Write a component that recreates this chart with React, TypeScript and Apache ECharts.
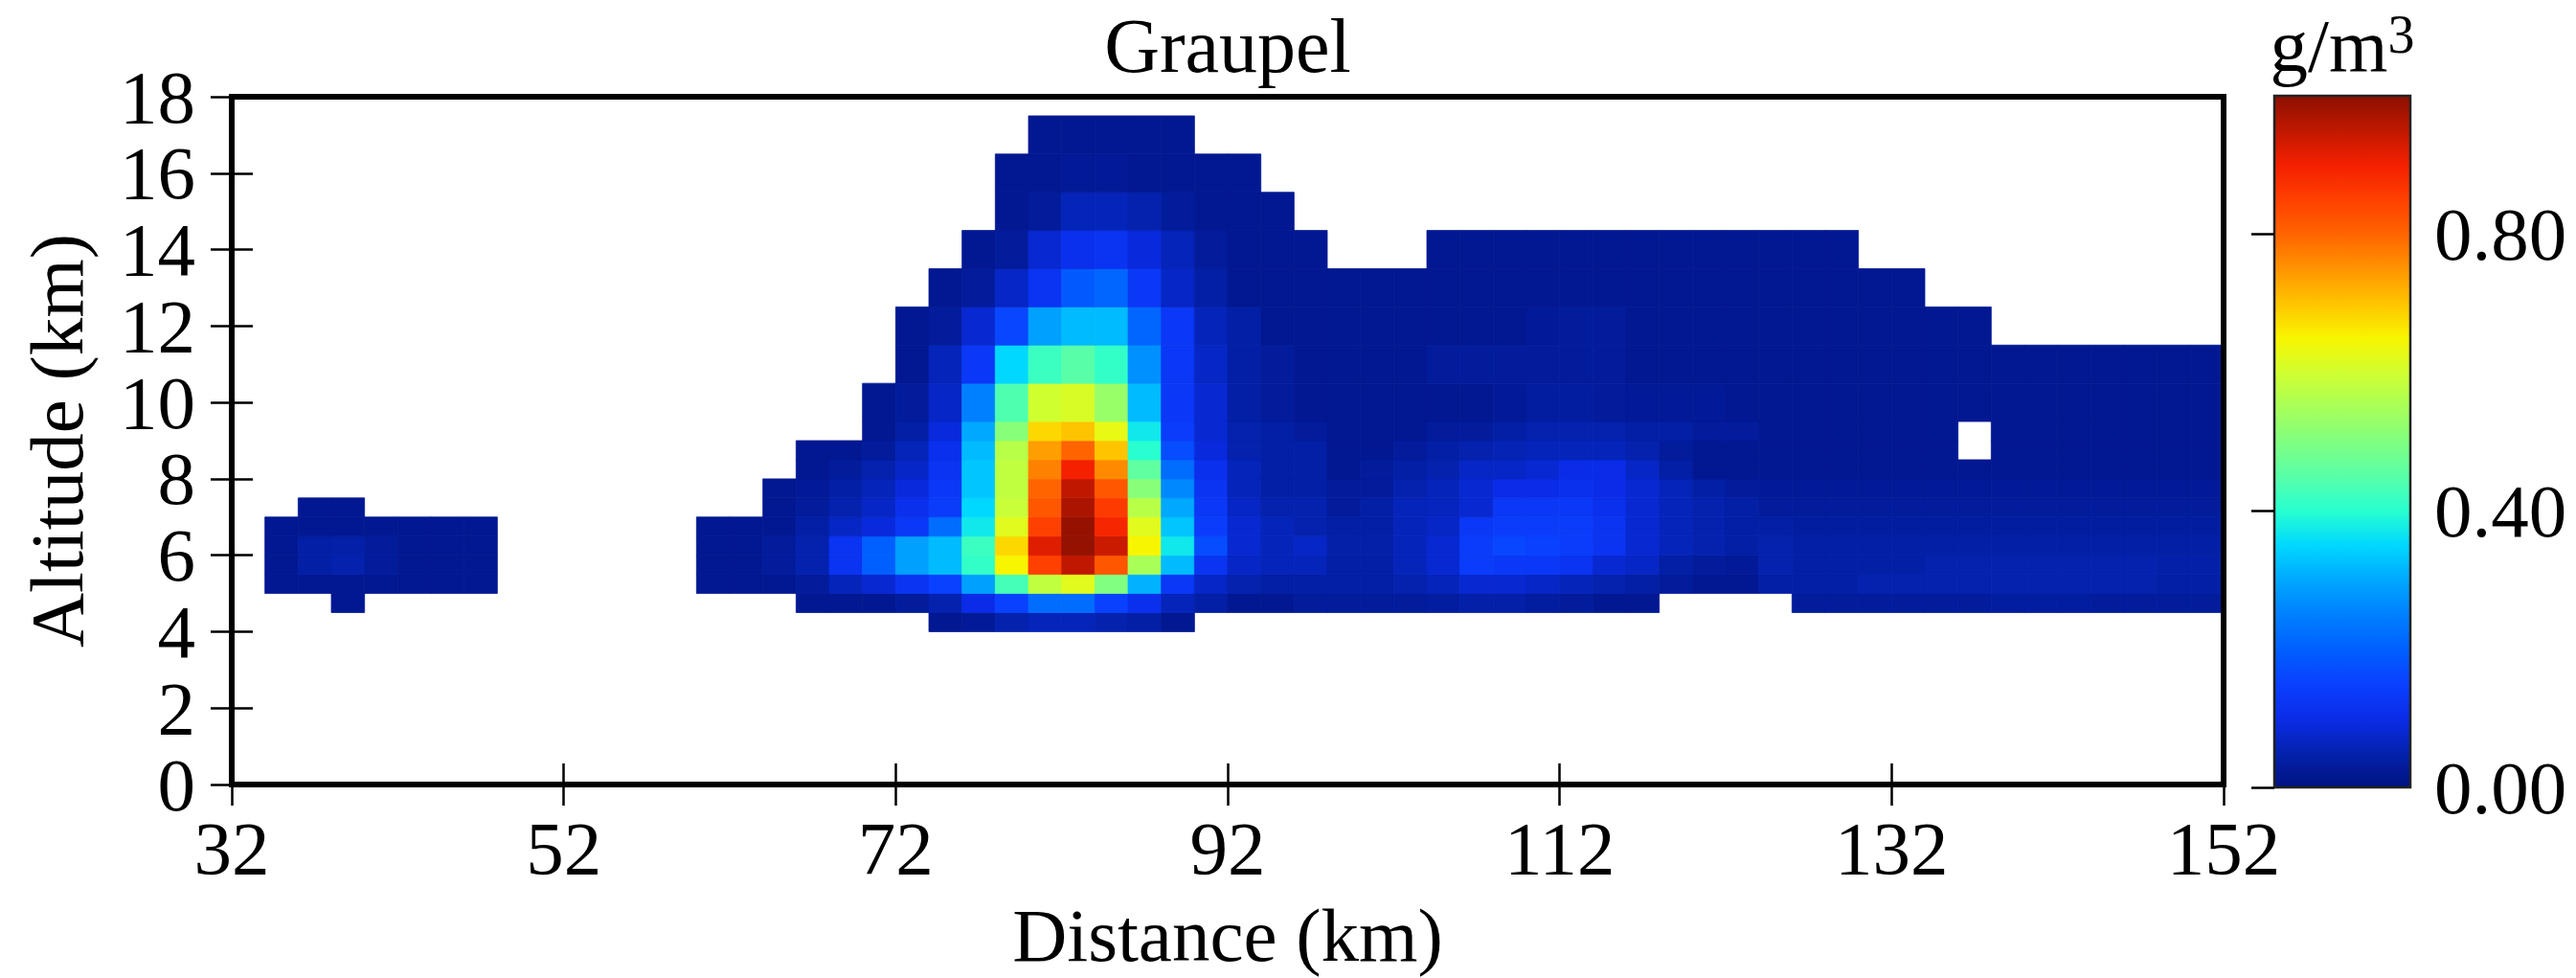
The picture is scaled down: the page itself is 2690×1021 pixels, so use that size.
import React, { useEffect, useRef } from 'react';
import * as echarts from 'echarts';

const _ = null;
const GAP = [_, _, _, _, _, _];
const NONE7 = [_, _, _, _, _, _, _];

// Column edges (km) of the 2-km distance cells
const X_EDGES = [34, 36, 38, 40, 42, 44, 46, 48, 50, 52, 54, 56, 58, 60, 62, 64, 66, 68, 70, 72, 74, 76, 78, 80, 82, 84, 86, 88, 90, 92, 94, 96, 98, 100, 102, 104, 106, 108, 110, 112, 114, 116, 118, 120, 122, 124, 126, 128, 130, 132, 134, 136, 138, 140, 142, 144, 146, 148, 150, 152];
// Altitude band edges (km)
const Y_EDGES = [4.0, 4.5, 5.0, 5.5, 6.0, 6.5, 7.0, 7.5, 8.0, 8.5, 9.0, 9.5, 10.5, 11.5, 12.5, 13.5, 14.5, 15.5, 16.5, 17.5];

const X_ORIGIN = 32;
const X_END = 152;
const X_STEP = 20;
const Y_MIN = 0;
const Y_MAX = 18;
const Y_STEP = 2;
const V_MIN = 0;
const V_MAX = 1;
const V_STEP = 0.4;

// Graupel content (g/m3), one array per altitude band, one value per distance cell (null = no data)
const alt_04_00 = [...NONE7, ...GAP,
  _, _, _, _, _, _, _, 0.02, 0.025, 0.05,
  0.06, 0.06, 0.05, 0.04, 0.02, _, _, _, _, _,
  _, _, _, _, _, _, _, _, _, _,
  _, _, _, _, _, _, _, _, _, _,
  _, _, _, _, _, _];
const alt_04_50 = [_, _, 0.02, _, _, _, _, ...GAP,
  _, _, _, 0.02, 0.02, 0.02, 0.03, 0.05, 0.10, 0.15,
  0.22, 0.22, 0.15, 0.11, 0.06, 0.04, 0.02, 0.02, 0.03, 0.03,
  0.03, 0.03, 0.035, 0.045, 0.045, 0.035, 0.03, 0.02, 0.02, _,
  _, _, _, 0.03, 0.03, 0.03, 0.03, 0.03, 0.03, 0.035,
  0.035, 0.035, 0.03, 0.03, 0.03, 0.03];
const alt_05_00 = [0.02, 0.02, 0.02, 0.02, 0.02, 0.02, 0.02, ...GAP,
  0.02, 0.02, 0.02, 0.03, 0.06, 0.08, 0.12, 0.15, 0.29, 0.43,
  0.58, 0.62, 0.50, 0.31, 0.13, 0.07, 0.05, 0.04, 0.04, 0.04,
  0.04, 0.05, 0.06, 0.08, 0.08, 0.07, 0.06, 0.05, 0.04, 0.03,
  0.02, 0.02, 0.04, 0.04, 0.04, 0.05, 0.05, 0.05, 0.05, 0.05,
  0.05, 0.05, 0.05, 0.05, 0.04, 0.04];
const alt_05_50 = [0.02, 0.04, 0.05, 0.03, 0.02, 0.02, 0.02, ...GAP,
  0.02, 0.02, 0.03, 0.05, 0.12, 0.20, 0.29, 0.32, 0.41, 0.65,
  0.85, 0.95, 0.82, 0.55, 0.32, 0.12, 0.07, 0.06, 0.06, 0.04,
  0.04, 0.06, 0.08, 0.14, 0.13, 0.13, 0.12, 0.08, 0.07, 0.04,
  0.03, 0.025, 0.05, 0.04, 0.04, 0.04, 0.04, 0.05, 0.05, 0.05,
  0.05, 0.05, 0.05, 0.05, 0.045, 0.045];
const alt_06_00 = [0.02, 0.04, 0.045, 0.03, 0.02, 0.02, 0.02, ...GAP,
  0.02, 0.02, 0.03, 0.05, 0.12, 0.20, 0.29, 0.32, 0.42, 0.68,
  0.92, 0.99, 0.94, 0.65, 0.37, 0.17, 0.08, 0.06, 0.07, 0.045,
  0.045, 0.06, 0.08, 0.14, 0.16, 0.15, 0.14, 0.12, 0.08, 0.06,
  0.05, 0.04, 0.05, 0.04, 0.04, 0.04, 0.04, 0.04, 0.04, 0.04,
  0.04, 0.04, 0.04, 0.04, 0.04, 0.04];
const alt_06_50 = [0.02, 0.02, 0.02, 0.02, 0.02, 0.02, 0.02, ...GAP,
  0.02, 0.02, 0.02, 0.04, 0.07, 0.09, 0.13, 0.22, 0.37, 0.62,
  0.85, 0.99, 0.89, 0.62, 0.33, 0.14, 0.08, 0.06, 0.05, 0.04,
  0.04, 0.06, 0.07, 0.13, 0.14, 0.14, 0.14, 0.12, 0.08, 0.06,
  0.05, 0.04, 0.04, 0.035, 0.035, 0.035, 0.035, 0.035, 0.035, 0.035,
  0.035, 0.035, 0.035, 0.035, 0.035, 0.035];
const alt_07_00 = [_, 0.02, 0.02, _, _, _, _, ...GAP,
  _, _, 0.02, 0.03, 0.05, 0.07, 0.11, 0.14, 0.35, 0.59,
  0.82, 0.97, 0.86, 0.57, 0.30, 0.13, 0.07, 0.05, 0.05, 0.03,
  0.04, 0.06, 0.065, 0.08, 0.13, 0.13, 0.13, 0.11, 0.08, 0.06,
  0.05, 0.04, 0.03, 0.03, 0.03, 0.03, 0.03, 0.03, 0.03, 0.03,
  0.03, 0.03, 0.03, 0.03, 0.03, 0.03];
const alt_07_50 = [...NONE7, ...GAP,
  _, _, 0.02, 0.025, 0.04, 0.06, 0.09, 0.13, 0.33, 0.58,
  0.80, 0.95, 0.82, 0.51, 0.26, 0.12, 0.06, 0.04, 0.04, 0.03,
  0.03, 0.05, 0.06, 0.08, 0.10, 0.10, 0.11, 0.10, 0.08, 0.06,
  0.04, 0.03, 0.025, 0.025, 0.025, 0.025, 0.025, 0.025, 0.025, 0.025,
  0.025, 0.025, 0.025, 0.025, 0.025, 0.025];
const alt_08_00 = [...NONE7, ...GAP,
  _, _, _, 0.02, 0.03, 0.05, 0.07, 0.12, 0.33, 0.58,
  0.77, 0.90, 0.76, 0.46, 0.22, 0.11, 0.06, 0.04, 0.04, 0.02,
  0.03, 0.04, 0.05, 0.07, 0.07, 0.08, 0.10, 0.10, 0.07, 0.04,
  0.02, 0.02, 0.02, 0.02, 0.02, 0.02, 0.02, 0.02, 0.02, 0.02,
  0.02, 0.02, 0.02, 0.02, 0.02, 0.02];
const alt_08_50 = [...NONE7, ...GAP,
  _, _, _, 0.02, 0.02, 0.03, 0.06, 0.11, 0.32, 0.57,
  0.74, 0.80, 0.70, 0.40, 0.17, 0.09, 0.05, 0.04, 0.04, 0.02,
  0.02, 0.03, 0.04, 0.05, 0.055, 0.06, 0.06, 0.06, 0.05, 0.03,
  0.02, 0.02, 0.02, 0.02, 0.02, 0.02, 0.02, 0.02, _, 0.02,
  0.02, 0.02, 0.02, 0.02, 0.02, 0.02];
const alt_09_00 = [...NONE7, ...GAP,
  _, _, _, _, _, 0.02, 0.04, 0.09, 0.30, 0.51,
  0.68, 0.70, 0.63, 0.37, 0.14, 0.08, 0.05, 0.04, 0.03, 0.02,
  0.02, 0.02, 0.03, 0.03, 0.04, 0.05, 0.05, 0.05, 0.04, 0.04,
  0.03, 0.03, 0.02, 0.02, 0.02, 0.02, 0.02, 0.02, _, 0.02,
  0.02, 0.02, 0.02, 0.02, 0.02, 0.02];
const alt_09_50 = [...NONE7, ...GAP,
  _, _, _, _, _, 0.02, 0.03, 0.07, 0.25, 0.44,
  0.60, 0.61, 0.53, 0.32, 0.13, 0.08, 0.04, 0.03, 0.02, 0.02,
  0.02, 0.02, 0.02, 0.02, 0.025, 0.035, 0.035, 0.03, 0.025, 0.025,
  0.025, 0.02, 0.02, 0.02, 0.02, 0.02, 0.02, 0.02, 0.02, 0.02,
  0.02, 0.02, 0.02, 0.02, 0.02, 0.02];
const alt_10_50 = [...NONE7, ...GAP,
  _, _, _, _, _, _, 0.02, 0.06, 0.13, 0.35,
  0.42, 0.45, 0.41, 0.27, 0.13, 0.07, 0.04, 0.03, 0.02, 0.02,
  0.02, 0.02, 0.03, 0.03, 0.03, 0.03, 0.03, 0.03, 0.02, 0.02,
  0.02, 0.02, 0.02, 0.02, 0.02, 0.02, 0.02, 0.02, 0.02, 0.02,
  0.02, 0.02, 0.02, 0.02, 0.02, 0.02];
const alt_11_50 = [...NONE7, ...GAP,
  _, _, _, _, _, _, 0.02, 0.03, 0.08, 0.16,
  0.29, 0.32, 0.32, 0.21, 0.13, 0.06, 0.04, 0.02, 0.02, 0.02,
  0.02, 0.02, 0.02, 0.02, 0.02, 0.025, 0.03, 0.03, 0.02, 0.02,
  0.02, 0.02, 0.02, 0.02, 0.02, 0.02, 0.02, 0.02, 0.02, _,
  _, _, _, _, _, _];
const alt_12_50 = [...NONE7, ...GAP,
  _, _, _, _, _, _, _, 0.02, 0.03, 0.07,
  0.12, 0.19, 0.21, 0.13, 0.07, 0.04, 0.02, 0.02, 0.02, 0.02,
  0.02, 0.02, 0.02, 0.02, 0.02, 0.02, 0.02, 0.02, 0.02, 0.02,
  0.02, 0.02, 0.02, 0.02, 0.02, 0.02, 0.02, _, _, _,
  _, _, _, _, _, _];
const alt_13_50 = [...NONE7, ...GAP,
  _, _, _, _, _, _, _, _, 0.02, 0.03,
  0.08, 0.11, 0.12, 0.09, 0.06, 0.03, 0.02, 0.02, 0.02, _,
  _, _, 0.02, 0.02, 0.02, 0.02, 0.02, 0.02, 0.02, 0.02,
  0.02, 0.02, 0.02, 0.02, 0.02, _, _, _, _, _,
  _, _, _, _, _, _];
const alt_14_50 = [...NONE7, ...GAP,
  _, _, _, _, _, _, _, _, _, 0.02,
  0.03, 0.06, 0.06, 0.05, 0.03, 0.02, 0.02, 0.02, _, _,
  _, _, _, _, _, _, _, _, _, _,
  _, _, _, _, _, _, _, _, _, _,
  _, _, _, _, _, _];
const alt_15_50 = [...NONE7, ...GAP,
  _, _, _, _, _, _, _, _, _, 0.02,
  0.02, 0.025, 0.025, 0.02, 0.02, 0.02, 0.02, _, _, _,
  _, _, _, _, _, _, _, _, _, _,
  _, _, _, _, _, _, _, _, _, _,
  _, _, _, _, _, _];
const alt_16_50 = [...NONE7, ...GAP,
  _, _, _, _, _, _, _, _, _, _,
  0.02, 0.02, 0.02, 0.02, 0.02, _, _, _, _, _,
  _, _, _, _, _, _, _, _, _, _,
  _, _, _, _, _, _, _, _, _, _,
  _, _, _, _, _, _];

const BANDS = [alt_04_00, alt_04_50, alt_05_00, alt_05_50, alt_06_00, alt_06_50, alt_07_00, alt_07_50,
  alt_08_00, alt_08_50, alt_09_00, alt_09_50, alt_10_50, alt_11_50, alt_12_50, alt_13_50,
  alt_14_50, alt_15_50, alt_16_50];

// jet-like colour scale, evenly spaced from V_MIN to V_MAX
const JET = ['#001280', '#0422ae', '#0a2ce8', '#0a40ff', '#0060ff', '#0080ff', '#00a8ff', '#00d8ff',
  '#28ffd0', '#58ffa8', '#80ff80', '#a8ff58', '#d0ff30', '#f8f500', '#ffc400', '#ff9400',
  '#ff6400', '#ff4000', '#f42000', '#c01800', '#8c1000'];

const FONT = 'Liberation Serif';
const FS = 79;

function buildOption() {
  const cells: number[][] = [];
  BANDS.forEach((row, b) => {
    row.forEach((v, k) => {
      if (v !== null && v !== undefined) {
        cells.push([X_EDGES[k] - X_ORIGIN, X_EDGES[k + 1] - X_ORIGIN, Y_EDGES[b], Y_EDGES[b + 1], v as number]);
      }
    });
  });

  const labelStyle = { fontFamily: FONT, fontSize: FS, color: '#000', lineHeight: FS };
  const tickLabelStyle = { fontFamily: FONT, fontSize: FS, color: '#000', lineHeight: 56 };
  const tick = { show: true, inside: true, length: 22, lineStyle: { color: '#000', width: 2.5 } };

  return {
    animation: false,
    backgroundColor: '#ffffff',
    textStyle: { fontFamily: FONT },
    title: [{
      text: '{a|g/m}{b|3}',
      left: 2446,
      top: 8,
      textAlign: 'center',
      padding: 0,
      textStyle: {
        fontFamily: FONT, fontSize: FS, fontWeight: 'normal', color: '#000', lineHeight: FS,
        rich: {
          a: { fontFamily: FONT, fontSize: FS, color: '#000', lineHeight: FS, verticalAlign: 'bottom' },
          b: { fontFamily: FONT, fontSize: 56, color: '#000', lineHeight: 56, verticalAlign: 'top' },
        },
      },
    }],
    grid: [
      { left: 242, top: 101, width: 2080, height: 721, show: true, borderColor: '#000', borderWidth: 6, backgroundColor: 'transparent', z: 3 },
      { left: 2375, top: 100, width: 142, height: 722, show: true, borderColor: '#222', borderWidth: 2.5, backgroundColor: 'transparent', z: 3 },
    ],
    xAxis: [
      {
        gridIndex: 0, type: 'value', position: 'bottom', min: 0, max: X_END - X_ORIGIN, interval: X_STEP, z: 3,
        axisLine: { show: false }, splitLine: { show: false }, axisTick: tick,
        axisLabel: { ...labelStyle, margin: 27, showMinLabel: true, showMaxLabel: true, formatter: (v: number) => String(v + X_ORIGIN) },
        name: 'Distance (km)', nameLocation: 'middle', nameGap: 118, nameTextStyle: labelStyle,
      },
      {
        gridIndex: 0, type: 'value', position: 'top', min: 0, max: X_END - X_ORIGIN, interval: X_STEP, z: 3,
        axisLine: { show: false }, splitLine: { show: false }, axisTick: tick, axisLabel: { show: false },
        name: 'Graupel', nameLocation: 'middle', nameGap: 13, nameTextStyle: { ...labelStyle, fontSize: 80, lineHeight: 80 },
      },
      { gridIndex: 1, type: 'value', min: V_MIN, max: V_MAX, show: false },
    ],
    yAxis: [
      {
        gridIndex: 0, type: 'value', position: 'left', min: Y_MIN, max: Y_MAX, interval: Y_STEP, z: 3,
        axisLine: { show: false }, splitLine: { show: false }, axisTick: tick,
        axisLabel: { ...tickLabelStyle, margin: 38, padding: [12, 0, 0, 0], showMinLabel: true, showMaxLabel: true, hideOverlap: false },
        name: 'Altitude (km)', nameLocation: 'middle', nameRotate: 90, nameGap: 143, nameTextStyle: labelStyle,
      },
      {
        gridIndex: 0, type: 'value', position: 'right', min: Y_MIN, max: Y_MAX, interval: Y_STEP, z: 3,
        axisLine: { show: false }, splitLine: { show: false }, axisTick: tick, axisLabel: { show: false },
      },
      {
        gridIndex: 1, type: 'value', position: 'right', min: V_MIN, max: V_MAX, interval: V_STEP, z: 3,
        axisLine: { show: false }, splitLine: { show: false },
        axisTick: { show: true, inside: true, length: 24, lineStyle: { color: '#000', width: 2.5 } },
        axisLabel: { ...labelStyle, margin: 25, padding: [14, 0, 0, 0], showMinLabel: true, showMaxLabel: false, formatter: (v: number) => v.toFixed(2) },
      },
    ],
    visualMap: [{
      type: 'continuous', show: false, min: V_MIN, max: V_MAX, dimension: 4, seriesIndex: 0,
      inRange: { color: JET },
    }],
    series: [
      {
        type: 'custom',
        xAxisIndex: 0,
        yAxisIndex: 0,
        data: cells,
        encode: { x: [0, 1], y: [2, 3] },
        clip: true,
        silent: true,
        renderItem: (params: any, api: any) => {
          const p0 = api.coord([api.value(0), api.value(3)]);
          const p1 = api.coord([api.value(1), api.value(2)]);
          const color = api.visual('color');
          return {
            type: 'rect',
            shape: { x: p0[0], y: p0[1], width: p1[0] - p0[0], height: p1[1] - p0[1] },
            style: { fill: color, stroke: color, lineWidth: 0.8 },
          };
        },
      },
      {
        type: 'custom',
        xAxisIndex: 2,
        yAxisIndex: 2,
        data: [[V_MIN, V_MAX, V_MIN, V_MAX]],
        encode: { x: [0, 1], y: [2, 3] },
        silent: true,
        renderItem: (params: any, api: any) => {
          const p0 = api.coord([api.value(0), api.value(3)]);
          const p1 = api.coord([api.value(1), api.value(2)]);
          const stops = JET.map((c, i) => ({ offset: i / (JET.length - 1), color: c }));
          return {
            type: 'rect',
            shape: { x: p0[0], y: p0[1], width: p1[0] - p0[0], height: p1[1] - p0[1] },
            style: { fill: new echarts.graphic.LinearGradient(0, 1, 0, 0, stops) },
          };
        },
      },
    ],
  };
}

export default function App() {
  const ref = useRef<HTMLDivElement>(null);
  useEffect(() => {
    if (!ref.current) return;
    const chart = echarts.init(ref.current, null, { renderer: 'svg' });
    chart.setOption(buildOption() as any);
    return () => chart.dispose();
  }, []);
  return (
    <div
      ref={ref}
      style={{ position: 'fixed', left: 0, top: 0, width: 2690, height: 1021, background: '#fff' }}
    />
  );
}
